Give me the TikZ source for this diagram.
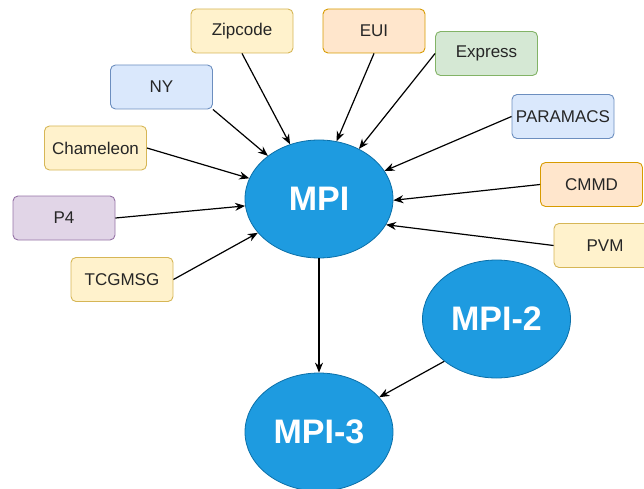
\documentclass[tikz,border=0pt]{standalone}
\usepackage{fontspec}
\setmainfont{Liberation Sans}
\usetikzlibrary{shapes.geometric,arrows.meta}
\definecolor{yfill}{HTML}{FFF2CC}\definecolor{ydraw}{HTML}{D6B656}
\definecolor{bfill}{HTML}{DAE8FC}\definecolor{bdraw}{HTML}{6C8EBF}
\definecolor{ofill}{HTML}{FFE6CC}\definecolor{odraw}{HTML}{D79B00}
\definecolor{gfill}{HTML}{D5E8D4}\definecolor{gdraw}{HTML}{82B366}
\definecolor{pfill}{HTML}{E1D5E7}\definecolor{pdraw}{HTML}{9673A6}
\definecolor{efill}{HTML}{1E9BE0}\definecolor{edraw}{HTML}{0A6FA8}
\definecolor{txt}{HTML}{262626}
\tikzset{
  lbox/.style={rectangle, rounded corners=5pt, minimum width=102pt, minimum height=44pt, inner sep=0pt, line width=0.9pt, font=\fontsize{17}{19}\selectfont, text=txt},
  yel/.style={lbox, fill=yfill, draw=ydraw},
  blu/.style={lbox, fill=bfill, draw=bdraw},
  ora/.style={lbox, fill=ofill, draw=odraw},
  gre/.style={lbox, fill=gfill, draw=gdraw},
  pur/.style={lbox, fill=pfill, draw=pdraw},
  mpinode/.style={ellipse, minimum width=148pt, minimum height=118pt, inner sep=0pt, fill=efill, draw=edraw, line width=0.8pt, text=white, font=\fontsize{34}{37}\selectfont\bfseries},
  conn/.style={line width=1.2pt, -{Stealth[length=10pt,width=8pt]}}
}
\begin{document}
\begin{tikzpicture}[x=1pt,y=-1pt]
\useasboundingbox (0,0) rectangle (644,489);
\begin{scope}
\clip (0,0) rectangle (644,489);
\node[mpinode] (mpi) at (319,199) {MPI};
\node[mpinode] (mpi2) at (496.5,319) {MPI-2};
\node[mpinode] (mpi3) at (319,432) {MPI-3};
\node[yel] (zip) at (242,31) {Zipcode};
\node[blu] (ny) at (161.5,87) {NY};
\node[yel] (cham) at (95.5,148) {Chameleon};
\node[pur] (p4) at (64,218) {P4};
\node[yel] (tcg) at (122,279.5) {TCGMSG};
\node[ora] (eui) at (374,31) {EUI};
\node[gre] (exp) at (486.5,53.5) {Express};
\node[blu] (para) at (563,116.5) {PARAMACS};
\node[ora] (cmmd) at (591.5,184.5) {CMMD};
\node[yel] (pvm) at (605,245.5) {PVM};
\draw[conn] (zip.south) -- (mpi);
\draw[conn] (ny.south east) -- (mpi);
\draw[conn] (cham.east) -- (mpi);
\draw[conn] (p4.east) -- (mpi);
\draw[conn] (tcg.east) -- (mpi);
\draw[conn] (eui.south) -- (mpi.73);
\draw[conn] (exp.west) -- (mpi);
\draw[conn] (para.west) -- (mpi);
\draw[conn] (cmmd.west) -- (mpi.-1);
\draw[conn] (pvm.west) -- (mpi.-21);
\draw[conn] (mpi) -- (mpi3);
\draw[conn] (mpi2.219) -- (mpi3.30);
\end{scope}
\end{tikzpicture}
\end{document}
